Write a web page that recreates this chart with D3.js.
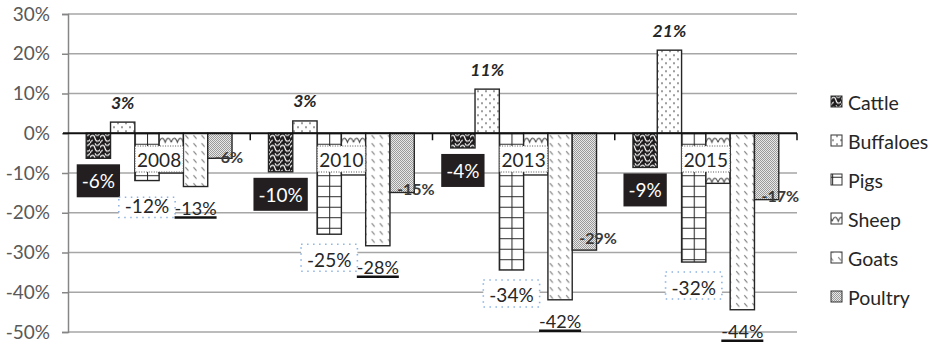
<!DOCTYPE html>
<html><head><meta charset="utf-8">
<script src="https://cdn.jsdelivr.net/npm/d3@7"></script>
<style>
html,body{margin:0;padding:0;background:#fff;}
svg{display:block;font-family:Lato,"Open Sans",sans-serif;}
</style></head>
<body><svg id="chart" width="933" height="348"></svg>
<script>
const categories = ["2008", "2010", "2013", "2015"];
const seriesNames = ["Cattle", "Buffaloes", "Pigs", "Sheep", "Goats", "Poultry"];
const cattle    = [-6.3, -9.7, -3.7, -8.6];
const buffaloes = [2.8, 3.1, 11.1, 20.9];
const pigs      = [-11.9, -25.4, -34.4, -32.4];
const sheep     = [-10.0, -10.5, -10.5, -12.6];
const goats     = [-13.4, -28.3, -41.9, -44.4];
const poultry   = [-6.3, -14.9, -29.4, -16.7];
const yTicks = [30, 20, 10, 0, -10, -20, -30, -40, -50];

const seriesValues = {Cattle: cattle, Buffaloes: buffaloes, Pigs: pigs, Sheep: sheep, Goats: goats, Poultry: poultry};
const poultryLabelDy = [-2, -4, -13, -4];

const L = 68, R = 797, T = 14, B = 332;
const svg = d3.select("#chart");

const y = d3.scaleLinear().domain([-50, 30]).range([B, T]);
const x0 = d3.scaleBand().domain(categories).range([L, R]).paddingInner(0).paddingOuter(0);
const x1 = d3.scaleBand().domain(seriesNames).range([0, x0.bandwidth()]).paddingInner(0).paddingOuter(0.75);
const bw = x1.bandwidth();

// patterns
const defs = svg.append("defs");
function pat(id, w, h, ox, oy) {
  return defs.append("pattern").attr("id", id).attr("patternUnits", "userSpaceOnUse")
    .attr("x", ox || 0).attr("y", oy || 0).attr("width", w).attr("height", h);
}
const y0 = y(0);
let p = pat("pCattle", 10, 10, 0, y0);
p.append("rect").attr("width", 10).attr("height", 10).attr("fill", "#1f1c1d");
p.append("path").attr("d", "M-1,6 C1,1 4,1 5,5 C6,9 9,9 11,5 M0,10 C1,8 2,7 3,7 M5,0 C6,3 8,3 10,0")
  .attr("fill", "none").attr("stroke", "#fff").attr("stroke-width", 1.1);
p = pat("pBuff", 8, 8, 0, y0);
p.append("rect").attr("width", 8).attr("height", 8).attr("fill", "#fff");
p.append("circle").attr("cx", 2).attr("cy", 2).attr("r", 0.8).attr("fill", "#222");
p.append("circle").attr("cx", 6).attr("cy", 6).attr("r", 0.8).attr("fill", "#222");
p = pat("pPigs", bw / 2, 10.5, L + x1("Pigs"), y0);
p.append("rect").attr("width", bw / 2).attr("height", 10.5).attr("fill", "#fff");
p.append("path").attr("d", `M0,0.5 H${bw / 2} M0.5,0 V10.5`).attr("stroke", "#222").attr("stroke-width", 1);
p = pat("pSheep", bw / 2, 20, L + x1("Sheep"), y0 + 1);
p.append("rect").attr("width", bw / 2).attr("height", 20).attr("fill", "#fff");
p.append("path").attr("d", `M0,8 Q${bw / 8},0 ${bw / 4},8 Q${3 * bw / 8},0 ${bw / 2},8`).attr("fill", "none").attr("stroke", "#333").attr("stroke-width", 1);
p = pat("pGoats", bw / 3, 8, L + x1("Goats"), y0);
p.append("rect").attr("width", bw / 3).attr("height", 8).attr("fill", "#fff");
p.append("path").attr("d", "M2,2 L5,5.5").attr("stroke", "#666").attr("stroke-width", 1.1);
p = pat("pPoultry", 2, 2);
p.append("rect").attr("width", 2).attr("height", 2).attr("fill", "#e8e8e8");
p.append("rect").attr("width", 1).attr("height", 1).attr("fill", "#9a9a9a");
p.append("rect").attr("x", 1).attr("y", 1).attr("width", 1).attr("height", 1).attr("fill", "#9a9a9a");
const fills = {Cattle: "url(#pCattle)", Buffaloes: "url(#pBuff)", Pigs: "url(#pPigs)", Sheep: "url(#pSheep)", Goats: "url(#pGoats)", Poultry: "url(#pPoultry)"};

// gridlines
svg.append("g").selectAll("line").data(yTicks.filter(d => d !== 0)).join("line")
  .attr("x1", L).attr("x2", R).attr("y1", d => y(d)).attr("y2", d => y(d))
  .attr("stroke", "#a6a6a6").attr("stroke-width", 1.5);

// y axis
const yAxis = d3.axisLeft(y).tickValues(yTicks).tickSize(6).tickPadding(12).tickFormat(d => d + "%");
const ya = svg.append("g").attr("transform", `translate(${L},0)`).call(yAxis);
ya.select(".domain").attr("stroke", "#868686").attr("stroke-width", 1.5);
ya.selectAll(".tick line").attr("stroke", "#868686").attr("stroke-width", 1.5);
ya.selectAll(".tick text").attr("fill", "#595959").attr("font-size", 19).attr("font-family", "Lato");

// bars
const rows = [];
categories.forEach((c, i) => seriesNames.forEach(s => rows.push({c, i, s, v: seriesValues[s][i]})));
svg.append("g").selectAll("rect").data(rows).join("rect")
  .attr("x", d => x0(d.c) + x1(d.s)).attr("width", bw)
  .attr("y", d => y(Math.max(0, d.v))).attr("height", d => Math.abs(y(d.v) - y(0)))
  .attr("fill", d => fills[d.s]).attr("stroke", "#262626").attr("stroke-width", 1.4);

// zero line + category ticks
svg.append("line").attr("x1", L - 5).attr("x2", R).attr("y1", y0).attr("y2", y0)
  .attr("stroke", "#111").attr("stroke-width", 2);
svg.append("g").selectAll("line").data(categories).join("line")
  .attr("x1", d => x0(d) + x0.bandwidth()).attr("x2", d => x0(d) + x0.bandwidth())
  .attr("y1", y0).attr("y2", y0 + 7).attr("stroke", "#111").attr("stroke-width", 1.5);

const fmt = v => Math.round(v) + "%";
const cx = (c, s) => x0(c) + x1(s) + bw / 2;

// category labels (white boxes)
const catG = svg.append("g");
categories.forEach(c => {
  const g = catG.append("g");
  const t = g.append("text").attr("x", x0(c) + x0.bandwidth() / 2).attr("y", 159)
    .attr("text-anchor", "middle").attr("dominant-baseline", "central")
    .attr("font-size", 19).attr("fill", "#262626").text(c);
  const bb = t.node().getBBox();
  g.insert("rect", "text").attr("x", bb.x - 2).attr("y", 146).attr("width", bb.width + 4).attr("height", 26)
    .attr("fill", "#fff").attr("stroke", "#555").attr("stroke-width", 1).attr("stroke-dasharray", "1,1.5");
});

// Cattle labels
let cattleBottoms = [];
categories.forEach((c, i) => {
  const g = svg.append("g");
  const yc = y(cattle[i]) + 22.5;
  const t = g.append("text").attr("x", cx(c, "Cattle")).attr("y", yc)
    .attr("text-anchor", "middle").attr("dominant-baseline", "central")
    .attr("font-size", 19).attr("fill", "#fff").text(fmt(cattle[i]));
  const bb = t.node().getBBox();
  g.insert("rect", "text").attr("x", bb.x - 5).attr("y", yc - 16.5).attr("width", bb.width + 10).attr("height", 33)
    .attr("fill", "#231f20");
  cattleBottoms.push(yc + 16.5);
});

// Buffaloes labels
svg.append("g").selectAll("text").data(categories).join("text")
  .attr("x", c => cx(c, "Buffaloes")).attr("y", (c, i) => y(buffaloes[i]) - 20)
  .attr("text-anchor", "middle").attr("dominant-baseline", "central")
  .attr("font-size", 17.5).attr("font-weight", "bold").attr("font-style", "italic").attr("fill", "#262626")
  .text((c, i) => fmt(buffaloes[i]));

// Pigs labels
categories.forEach((c, i) => {
  const g = svg.append("g");
  const yc = y(pigs[i]) + 25;
  const t = g.append("text").attr("x", cx(c, "Pigs")).attr("y", yc)
    .attr("text-anchor", "middle").attr("dominant-baseline", "central")
    .attr("font-size", 19).attr("fill", "#262626").text(fmt(pigs[i]));
  const bb = t.node().getBBox();
  const top = Math.max(yc - 15, cattleBottoms[i]);
  g.insert("rect", "text").attr("x", bb.x - 6).attr("y", top).attr("width", bb.width + 12)
    .attr("height", (yc + 12) - top)
    .attr("fill", "#fff").attr("stroke", "#8db3e2").attr("stroke-width", 1.6).attr("stroke-dasharray", "1.5,4.5");
});

// Goats labels
categories.forEach((c, i) => {
  const yc = y(goats[i]) + 21;
  const t = svg.append("text").attr("x", cx(c, "Goats")).attr("y", yc)
    .attr("text-anchor", "middle").attr("dominant-baseline", "central")
    .attr("font-size", 18).attr("fill", "#262626").text(fmt(goats[i]));
  const bb = t.node().getBBox();
  svg.append("line").attr("x1", bb.x).attr("x2", bb.x + bb.width).attr("y1", yc + 10).attr("y2", yc + 10)
    .attr("stroke", "#111").attr("stroke-width", 2.5);
});

// Poultry labels
svg.append("g").selectAll("text").data(categories).join("text")
  .attr("x", c => x0(c) + x1("Poultry") + 7).attr("y", (c, i) => y(poultry[i]) + poultryLabelDy[i])
  .attr("dominant-baseline", "central")
  .attr("font-size", 16).attr("font-weight", "bold").attr("fill", "#3a3a3a")
  .text((c, i) => fmt(poultry[i]));

// legend
const lg = svg.append("g").selectAll("g").data(seriesNames).join("g")
  .attr("transform", (d, i) => `translate(831,${102 + i * 39})`);
lg.append("rect").attr("x", 0).attr("y", -6).attr("width", 11).attr("height", 11)
  .attr("fill", d => fills[d]).attr("stroke", "#333").attr("stroke-width", 1);
lg.append("text").attr("x", 17).attr("y", 0).attr("dominant-baseline", "central")
  .attr("font-size", 19.5).attr("fill", "#262626").text(d => d);
</script></body></html>
